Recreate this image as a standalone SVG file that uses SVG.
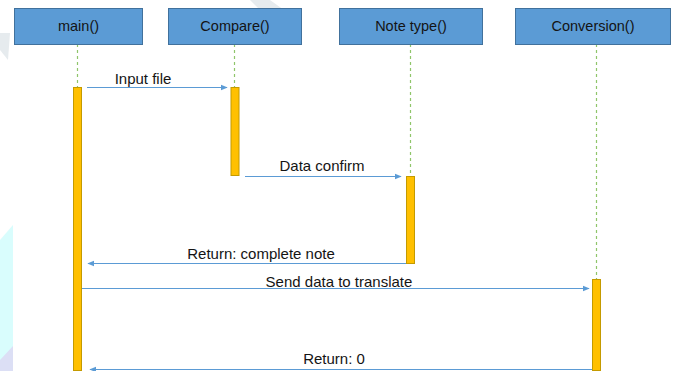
<svg xmlns="http://www.w3.org/2000/svg" width="679" height="371" viewBox="0 0 679 371">
  <defs>
    <marker id="arrow" viewBox="0 0 10 10" refX="9" refY="5" markerWidth="7" markerHeight="7" markerUnits="userSpaceOnUse" orient="auto">
      <path d="M0,1 L10,5 L0,9 z" fill="#5b9bd5"/>
    </marker>
    <style>
      .obj { fill: #5b9bd5; stroke: #41719c; stroke-width: 1; }
      .objlabel { font-family: "Liberation Sans", Arial, sans-serif; font-size: 14.5px; fill: #141414; text-anchor: middle; }
      .life { stroke: #8fc56a; stroke-width: 1.2; stroke-dasharray: 3 3; fill: none; }
      .act { fill: #ffc000; stroke: #c49a00; stroke-width: 1; }
      .msg { stroke: #5b9bd5; stroke-width: 1.2; fill: none; marker-end: url(#arrow); }
      .msglabel { font-family: "Liberation Sans", Arial, sans-serif; font-size: 15px; fill: #141414; text-anchor: middle; }
    </style>
  </defs>

  <rect width="679" height="371" fill="#ffffff"/>

  <!-- faint background shapes -->
  <g id="backdrop">
    <polygon points="0,33 10,33 8,60 0,50" fill="#e6ebee"/>
    <polygon points="250,0 270,0 284,10 262,12" fill="#e6ebee"/>
    <polygon points="0,240 13,225 13,371 0,371" fill="#d9fdfd"/>
    <polygon points="0,360 13,346 13,371 0,371" fill="#dcdff5"/>
  </g>

  <!-- lifelines -->
  <g id="lifelines">
    <line class="life" x1="77.5" y1="44" x2="77.5" y2="87"/>
    <line class="life" x1="234.5" y1="44" x2="234.5" y2="87"/>
    <line class="life" x1="410.5" y1="44" x2="410.5" y2="176"/>
    <line class="life" x1="596.5" y1="44" x2="596.5" y2="279"/>
  </g>

  <!-- participants -->
  <g id="main">
    <rect class="obj" x="14.5" y="8.5" width="128" height="36"/>
    <text class="objlabel" x="78.5" y="31">main()</text>
    <rect class="act" x="73.5" y="87.5" width="8" height="283"/>
  </g>
  <g id="compare">
    <rect class="obj" x="168.5" y="8.5" width="133" height="36"/>
    <text class="objlabel" x="235" y="31">Compare()</text>
    <rect class="act" x="231" y="87.5" width="8" height="88"/>
  </g>
  <g id="note-type">
    <rect class="obj" x="339.5" y="8.5" width="143" height="36"/>
    <text class="objlabel" x="411" y="31">Note type()</text>
    <rect class="act" x="406.5" y="176.5" width="8" height="87"/>
  </g>
  <g id="conversion">
    <rect class="obj" x="515.5" y="8.5" width="155" height="36"/>
    <text class="objlabel" x="593" y="31">Conversion()</text>
    <rect class="act" x="592.5" y="279.5" width="8" height="91"/>
  </g>

  <!-- messages -->
  <g id="connectors">
    <line class="msg" x1="87" y1="87.5" x2="227" y2="87.5"/>
    <line class="msg" x1="245" y1="176.5" x2="401" y2="176.5"/>
    <line class="msg" x1="406" y1="263.5" x2="88" y2="263.5"/>
    <line class="msg" x1="82" y1="288.5" x2="589" y2="288.5"/>
    <line class="msg" x1="592" y1="369.5" x2="90" y2="369.5"/>
  </g>

  <g id="message-labels">
    <text class="msglabel" x="143" y="84">Input file</text>
    <text class="msglabel" x="322" y="171">Data confirm</text>
    <text class="msglabel" x="261" y="259">Return: complete note</text>
    <text class="msglabel" x="339" y="287">Send data to translate</text>
    <text class="msglabel" x="334" y="364">Return: 0</text>
  </g>
</svg>
